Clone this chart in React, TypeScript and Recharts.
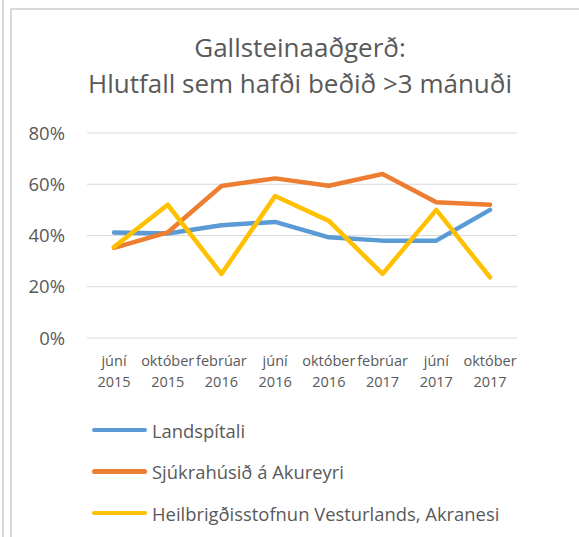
import { LineChart, Line, XAxis, YAxis, CartesianGrid } from 'recharts'

const categories = [
  'júní 2015',
  'október 2015',
  'febrúar 2016',
  'júní 2016',
  'október 2016',
  'febrúar 2017',
  'júní 2017',
  'október 2017',
]

const landspitali = [41.2, 40.8, 44, 45.3, 39.3, 38, 38, 50]
const akureyri = [35.2, 41.2, 59.3, 62.3, 59.4, 64, 53, 52]
const akranes = [35.5, 52, 25, 55.4, 45.7, 25, 50, 23.7]

const yTicks = [0, 20, 40, 60, 80]

const SERIES = [
  { key: 'landspitali', name: 'Landspítali', color: '#5B9BD5' },
  { key: 'akureyri', name: 'Sjúkrahúsið á Akureyri', color: '#ED7D31' },
  { key: 'akranes', name: 'Heilbrigðisstofnun Vesturlands, Akranesi', color: '#FFC000' },
]

const data = categories.map((c, i) => ({
  name: c,
  landspitali: landspitali[i],
  akureyri: akureyri[i],
  akranes: akranes[i],
}))

const FONT = '"Open Sans", sans-serif'
const TEXT = '#595959'

function MonthTick(props: any) {
  const { x, y, payload } = props
  const [month, year] = String(payload.value).split(' ')
  return (
    <text x={x} y={y} textAnchor="middle" fill={TEXT} fontSize={14.5} fontFamily={FONT}>
      <tspan x={x} dy={20}>{month}</tspan>
      <tspan x={x} dy={21}>{year}</tspan>
    </text>
  )
}

export default function App() {
  return (
    <div style={{ position: 'absolute', left: 0, top: 0, width: 579, height: 537, background: '#fff', overflow: 'hidden' }}>
      <div style={{ position: 'absolute', left: 2, top: 0, width: 1.5, height: 537, background: '#D9D9D9' }} />
      <div style={{ position: 'absolute', left: 10, top: 8, width: 1.5, height: 529, background: '#D9D9D9' }} />
      <div style={{ position: 'absolute', left: 10, top: 8, width: 569, height: 1.5, background: '#D9D9D9' }} />

      <div
        style={{
          position: 'absolute',
          left: 21,
          top: 29,
          width: 558,
          textAlign: 'center',
          fontFamily: FONT,
          fontSize: 26,
          lineHeight: '36px',
          color: TEXT,
        }}
      >
        Gallsteinaaðgerð:
        <br />
        Hlutfall sem hafði beðið &gt;3 mánuði
      </div>

      <LineChart width={579} height={537} data={data} margin={{ top: 133, right: 62, bottom: 0, left: 0 }}>
        <CartesianGrid vertical={false} stroke="#D9D9D9" />
        <XAxis
          dataKey="name"
          height={199}
          axisLine={false}
          tickLine={false}
          interval={0}
          padding={{ left: 27, right: 27 }}
          tick={<MonthTick />}
        />
        <YAxis
          width={87}
          domain={[0, 80]}
          ticks={yTicks}
          axisLine={false}
          tickLine={false}
          tickMargin={16}
          tickFormatter={(v) => `${v}%`}
          tick={{ fill: TEXT, fontSize: 18.5, fontFamily: FONT }}
        />
        {SERIES.map((s) => (
          <Line
            key={s.key}
            type="linear"
            dataKey={s.key}
            name={s.name}
            stroke={s.color}
            strokeWidth={4.5}
            dot={false}
            strokeLinecap="round"
            strokeLinejoin="round"
            isAnimationActive={false}
          />
        ))}
      </LineChart>

      <div style={{ position: 'absolute', left: 92, top: 418, fontFamily: FONT, fontSize: 18.4, color: TEXT }}>
        {SERIES.map((s) => (
          <div key={s.key} style={{ display: 'flex', alignItems: 'center', height: 24, marginBottom: 17.5, whiteSpace: 'nowrap' }}>
            <div style={{ width: 55, height: 4.5, borderRadius: 3, background: s.color, marginRight: 5 }} />
            <span>{s.name}</span>
          </div>
        ))}
      </div>
    </div>
  )
}
